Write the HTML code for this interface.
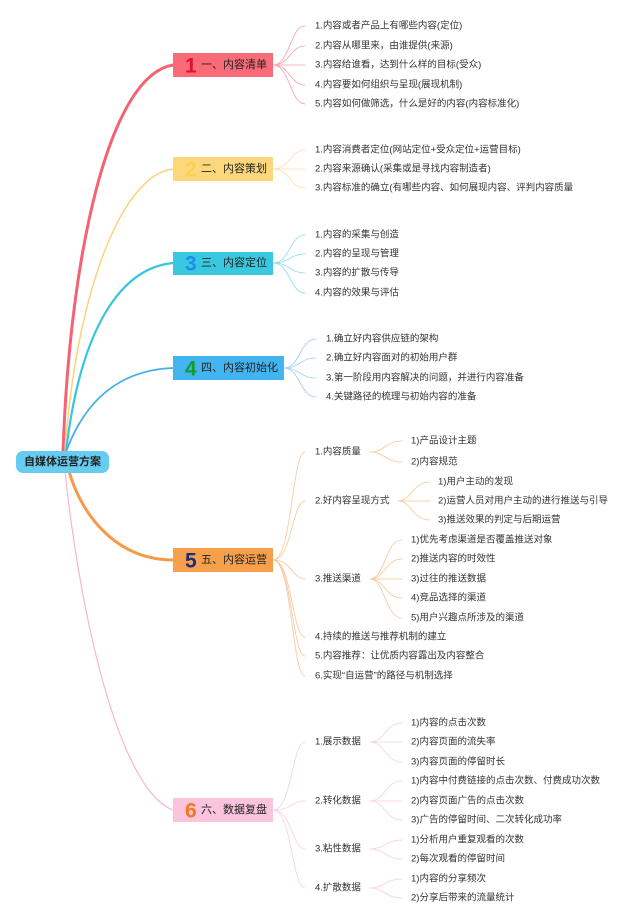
<!DOCTYPE html>
<html><head><meta charset="utf-8"><style>
html,body{margin:0;padding:0;background:#fff;}
svg{display:block;}
text{font-family:"Liberation Sans","Noto Sans CJK SC",sans-serif;font-size:9.5px;fill:#333;dominant-baseline:central;}
.b{font-size:11px;fill:#222;}
.n{font-size:21px;font-weight:bold;}
</style></head><body>
<svg width="640" height="924" viewBox="0 0 640 924" xmlns="http://www.w3.org/2000/svg">
<g fill="none" stroke-linecap="round">
<!-- main branches -->
<path d="M63 452 C70 250 110 75 173 65" stroke="#f36473" stroke-width="3"/>
<path d="M65 452 C75 300 120 175 173 169" stroke="#fcd27a" stroke-width="1.5"/>
<path d="M66 452 C80 330 120 268 173 263" stroke="#36c6dc" stroke-width="2.2"/>
<path d="M66 452 C85 400 120 370 173 368" stroke="#45aee8" stroke-width="1.8"/>
<path d="M66 460 C80 520 120 560 173 560" stroke="#f79a48" stroke-width="3"/>
<path d="M64 462 C80 620 120 790 173 810" stroke="#f6b7d3" stroke-width="1.2"/>
<!-- section 1 -->
<g stroke="#f7a0ab" stroke-width="0.8">
<path d="M273 65 C290 65 290 26 305 26"/><path d="M273 65 C290 65 290 46 305 46"/><path d="M273 65 L305 65"/><path d="M273 65 C290 65 290 85 305 85"/><path d="M273 65 C290 65 290 104 305 104"/>
</g>
<g stroke="#fbe0a6" stroke-width="0.8">
<path d="M273 169 C290 169 290 150 305 150"/><path d="M273 169 L305 169"/><path d="M273 169 C290 169 290 188 305 188"/>
</g>
<g stroke="#8fdbe8" stroke-width="0.8">
<path d="M273 263 C290 263 290 235 305 235"/><path d="M273 263 C290 263 290 254 305 254"/><path d="M273 263 C290 263 290 273 305 273"/><path d="M273 263 C290 263 290 293 305 293"/>
</g>
<g stroke="#95cff2" stroke-width="0.8">
<path d="M284 368 C300 368 300 339 316 339"/><path d="M284 368 C300 368 300 358 316 358"/><path d="M284 368 C300 368 300 378 316 378"/><path d="M284 368 C300 368 300 397 316 397"/>
</g>
<g stroke="#f9c597" stroke-width="0.8">
<path d="M273 560 C292 560 292 452 305 452"/><path d="M273 560 C292 560 292 501 305 501"/><path d="M273 560 C292 560 292 579 305 579"/><path d="M273 560 C292 560 292 637 305 637"/><path d="M273 560 C292 560 292 656 305 656"/><path d="M273 560 C292 560 292 676 305 676"/>
<path d="M370 452 C385 452 385 441 402 441"/><path d="M370 452 C385 452 385 462 402 462"/>
<path d="M398 501 C412 501 412 482 430 482"/><path d="M398 501 L430 501"/><path d="M398 501 C412 501 412 520 430 520"/>
<path d="M370 579 C385 579 385 540 402 540"/><path d="M370 579 C385 579 385 559 402 559"/><path d="M370 579 L402 579"/><path d="M370 579 C385 579 385 598 402 598"/><path d="M370 579 C385 579 385 618 402 618"/>
</g>
<g stroke="#f8cde0" stroke-width="0.8">
<path d="M273 810 C292 810 292 742 305 742"/><path d="M273 810 C292 810 292 801 305 801"/><path d="M273 810 C292 810 292 849 305 849"/><path d="M273 810 C292 810 292 888 305 888"/>
<path d="M370 742 C385 742 385 723 402 723"/><path d="M370 742 L402 742"/><path d="M370 742 C385 742 385 762 402 762"/>
<path d="M370 801 C385 801 385 781 402 781"/><path d="M370 801 L402 801"/><path d="M370 801 C385 801 385 820 402 820"/>
<path d="M370 849 C385 849 385 840 402 840"/><path d="M370 849 C385 849 385 859 402 859"/>
<path d="M370 888 C385 888 385 879 402 879"/><path d="M370 888 C385 888 385 898 402 898"/>
</g>
</g>
<!-- root -->
<rect x="16" y="451" width="93" height="22" rx="7" fill="#66cdf0"/>
<text x="62.5" y="462" class="b" text-anchor="middle" style="font-weight:bold;font-size:11px">自媒体运营方案</text>
<!-- branch boxes -->
<rect x="173" y="53" width="100" height="24" fill="#f96b78"/>
<text x="185" y="66" class="n" fill="#e0142a" style="fill:#e0142a">1</text><text x="201" y="65" class="b">一、内容清单</text>
<rect x="173" y="157" width="100" height="24" fill="#fcd77c"/>
<text x="185" y="170" class="n" style="fill:#fccf4c">2</text><text x="201" y="169" class="b">二、内容策划</text>
<rect x="173" y="252" width="100" height="23" fill="#38c9e0"/>
<text x="185" y="264" class="n" style="fill:#1e8ee6">3</text><text x="201" y="263" class="b">三、内容定位</text>
<rect x="173" y="356" width="111" height="24" fill="#42b4ef"/>
<text x="185" y="369" class="n" style="fill:#17992b">4</text><text x="201" y="368" class="b">四、内容初始化</text>
<rect x="173" y="548" width="100" height="24" fill="#f7a04c"/>
<text x="185" y="561" class="n" style="fill:#1f2d78">5</text><text x="201" y="560" class="b">五、内容运营</text>
<rect x="173" y="798" width="100" height="24" fill="#fbc4de"/>
<text x="185" y="811" class="n" style="fill:#f27818">6</text><text x="201" y="810" class="b">六、数据复盘</text>
<!-- leaves -->
<text x="315" y="26">1.内容或者产品上有哪些内容(定位)</text>
<text x="315" y="46">2.内容从哪里来，由谁提供(来源)</text>
<text x="315" y="65">3.内容给谁看，达到什么样的目标(受众)</text>
<text x="315" y="85">4.内容要如何组织与呈现(展现机制)</text>
<text x="315" y="104">5.内容如何做筛选，什么是好的内容(内容标准化)</text>
<text x="315" y="150">1.内容消费者定位(网站定位+受众定位+运营目标)</text>
<text x="315" y="169">2.内容来源确认(采集或是寻找内容制造者)</text>
<text x="315" y="188">3.内容标准的确立(有哪些内容、如何展现内容、评判内容质量</text>
<text x="315" y="235">1.内容的采集与创造</text>
<text x="315" y="254">2.内容的呈现与管理</text>
<text x="315" y="273">3.内容的扩散与传导</text>
<text x="315" y="293">4.内容的效果与评估</text>
<text x="326" y="339">1.确立好内容供应链的架构</text>
<text x="326" y="358">2.确立好内容面对的初始用户群</text>
<text x="326" y="378">3.第一阶段用内容解决的问题，并进行内容准备</text>
<text x="326" y="397">4.关键路径的梳理与初始内容的准备</text>
<text x="315" y="452">1.内容质量</text>
<text x="315" y="501">2.好内容呈现方式</text>
<text x="315" y="579">3.推送渠道</text>
<text x="315" y="637">4.持续的推送与推荐机制的建立</text>
<text x="315" y="656">5.内容推荐：让优质内容露出及内容整合</text>
<text x="315" y="676">6.实现“自运营”的路径与机制选择</text>
<text x="411" y="441">1)产品设计主题</text>
<text x="411" y="462">2)内容规范</text>
<text x="438" y="482">1)用户主动的发现</text>
<text x="438" y="501">2)运营人员对用户主动的进行推送与引导</text>
<text x="438" y="520">3)推送效果的判定与后期运营</text>
<text x="411" y="540">1)优先考虑渠道是否覆盖推送对象</text>
<text x="411" y="559">2)推送内容的时效性</text>
<text x="411" y="579">3)过往的推送数据</text>
<text x="411" y="598">4)竞品选择的渠道</text>
<text x="411" y="618">5)用户兴趣点所涉及的渠道</text>
<text x="315" y="742">1.展示数据</text>
<text x="315" y="801">2.转化数据</text>
<text x="315" y="849">3.粘性数据</text>
<text x="315" y="888">4.扩散数据</text>
<text x="411" y="723">1)内容的点击次数</text>
<text x="411" y="742">2)内容页面的流失率</text>
<text x="411" y="762">3)内容页面的停留时长</text>
<text x="411" y="781">1)内容中付费链接的点击次数、付费成功次数</text>
<text x="411" y="801">2)内容页面广告的点击次数</text>
<text x="411" y="820">3)广告的停留时间、二次转化成功率</text>
<text x="411" y="840">1)分析用户重复观看的次数</text>
<text x="411" y="859">2)每次观看的停留时间</text>
<text x="411" y="879">1)内容的分享频次</text>
<text x="411" y="898">2)分享后带来的流量统计</text>
</svg>
</body></html>
